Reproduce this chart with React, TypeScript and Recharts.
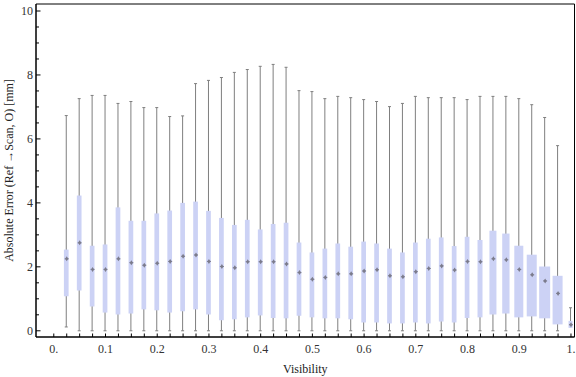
import React from "react";
import { ComposedChart, Bar, Scatter, XAxis, YAxis, Label, ReferenceArea } from "recharts";

// box positions (Visibility)
const visibility = [
  0.025, 0.05, 0.075, 0.1, 0.125, 0.15, 0.175, 0.2, 0.225, 0.25,
  0.275, 0.3, 0.325, 0.35, 0.375, 0.4, 0.425, 0.45, 0.475, 0.5,
  0.525, 0.55, 0.575, 0.6, 0.625, 0.65, 0.675, 0.7, 0.725, 0.75,
  0.775, 0.8, 0.825, 0.85, 0.875, 0.9, 0.925, 0.95, 0.975, 1.0,
];

const whiskerMax = [
  6.73, 7.26, 7.36, 7.36, 7.11, 7.17, 6.98, 6.98, 6.7, 6.72,
  7.73, 7.83, 7.92, 8.08, 8.17, 8.27, 8.33, 8.24, 7.51, 7.48,
  7.26, 7.33, 7.29, 7.23, 7.17, 7.01, 7.11, 7.33, 7.29, 7.29,
  7.29, 7.23, 7.33, 7.33, 7.33, 7.26, 7.07, 6.67, 5.79, 0.72,
];

const upperQuartile = [
  2.54, 4.23, 2.66, 2.7, 3.86, 3.44, 3.44, 3.67, 3.76, 4.0,
  4.04, 3.75, 3.53, 3.31, 3.47, 3.17, 3.34, 3.38, 2.76, 2.45,
  2.57, 2.73, 2.63, 2.79, 2.73, 2.57, 2.45, 2.76, 2.88, 2.92,
  2.65, 2.94, 2.84, 3.13, 3.04, 2.66, 2.38, 2.01, 1.72, 0.31,
];

const median = [
  2.25, 2.75, 1.92, 1.92, 2.25, 2.13, 2.05, 2.11, 2.17, 2.33,
  2.37, 2.17, 2.01, 1.97, 2.16, 2.16, 2.16, 2.09, 1.82, 1.61,
  1.67, 1.78, 1.78, 1.87, 1.91, 1.72, 1.69, 1.85, 1.95, 2.03,
  1.9, 2.17, 2.16, 2.25, 2.22, 1.92, 1.75, 1.56, 1.17, 0.19,
];

const lowerQuartile = [
  1.08, 1.26, 0.76, 0.57, 0.51, 0.54, 0.67, 0.64, 0.57, 0.61,
  0.67, 0.51, 0.33, 0.36, 0.42, 0.48, 0.4, 0.39, 0.47, 0.42,
  0.39, 0.39, 0.36, 0.26, 0.26, 0.23, 0.23, 0.26, 0.23, 0.29,
  0.26, 0.4, 0.42, 0.51, 0.54, 0.42, 0.45, 0.39, 0.2, 0.09,
];

const whiskerMin = [
  0.12, 0, 0, 0, 0, 0, 0, 0, 0, 0,
  0, 0, 0, 0, 0, 0, 0, 0, 0, 0,
  0, 0, 0, 0, 0, 0, 0, 0, 0, 0,
  0, 0, 0, 0, 0, 0, 0, 0, 0, 0.09,
];

// tick positions / labels
const xTicks = Array.from({ length: 41 }, (_, i) => +(i * 0.025).toFixed(3));
const xLabels: Record<string, string> = {
  "0": "0.", "0.1": "0.1", "0.2": "0.2", "0.3": "0.3", "0.4": "0.4", "0.5": "0.5",
  "0.6": "0.6", "0.7": "0.7", "0.8": "0.8", "0.9": "0.9", "1": "1.",
};
const yTicks = Array.from({ length: 21 }, (_, i) => i * 0.5);

const X_DOMAIN: [number, number] = [-0.0344, 1.0068];
const Y_DOMAIN: [number, number] = [-0.194, 10.219];

// drawing widths of the boxes (px)
const BOX_PX = [
  4.7, 4.7, 4.7, 4.7, 4.7, 4.7, 4.7, 4.7, 4.7, 4.7,
  4.7, 4.7, 4.7, 4.7, 4.7, 4.7, 4.7, 4.7, 4.7, 4.7,
  4.7, 4.7, 4.7, 4.7, 4.7, 4.7, 4.7, 4.7, 4.7, 4.7,
  4.7, 4.7, 5, 7, 7.3, 9, 10, 11, 10, 4,
];

const BOX_FILL = "#CCD2F5";
const WHISKER = "#7f7f7f";
const FONT = "'Liberation Serif', 'Times New Roman', serif";

const data = visibility.map((v, i) => ({
  v,
  range: [whiskerMin[i], whiskerMax[i]],
  min: whiskerMin[i],
  q1: lowerQuartile[i],
  median: median[i],
  q3: upperQuartile[i],
  max: whiskerMax[i],
}));

function BoxShape(props: any) {
  const { x, y, width, height, payload } = props;
  if (!payload) return null;
  const i = visibility.indexOf(payload.v);
  const cx = x + width / 2;
  const top = Math.min(y, y + height);
  const bot = Math.max(y, y + height);
  const lo = payload.min;
  const hi = payload.max;
  const py = (val: number) =>
    hi === lo ? bot : bot - ((val - lo) / (hi - lo)) * (bot - top);
  const w = BOX_PX[i] ?? 5;
  const yq3 = py(payload.q3);
  const yq1 = py(payload.q1);
  return (
    <g>
      <line x1={cx} x2={cx} y1={top} y2={bot} stroke={WHISKER} strokeWidth={1} />
      <line x1={cx - 1.5} x2={cx + 1.5} y1={top} y2={top} stroke={WHISKER} strokeWidth={1} />
      {payload.min < payload.q1 && (
        <line x1={cx - 1.5} x2={cx + 1.5} y1={bot} y2={bot} stroke={WHISKER} strokeWidth={1} />
      )}
      <rect x={cx - w / 2} y={yq3} width={w} height={Math.max(yq1 - yq3, 1)} fill={BOX_FILL} />
    </g>
  );
}

function MedianShape(props: any) {
  const { cx, cy } = props;
  if (cx == null || cy == null) return null;
  return (
    <g>
      <path
        d={`M${cx},${cy - 2.5} L${cx + 1.6},${cy} L${cx},${cy + 2.5} L${cx - 1.6},${cy} Z`}
        fill="#7c7c8c"
      />
      <line x1={cx - 2} x2={cx + 2} y1={cy} y2={cy} stroke="#7c7c8c" strokeWidth={1} />
    </g>
  );
}

function LeftTick(props: any) {
  const { x, y, payload } = props;
  const major = payload.value % 2 === 0;
  const ax = x + 3;
  return (
    <g>
      <line x1={ax} x2={ax + (major ? 4.5 : 3)} y1={y} y2={y} stroke="#000" />
      {major && (
        <text x={x} y={y} dy="0.33em" textAnchor="end" fontSize={12} fill="#333" fontFamily={FONT}>
          {payload.value}
        </text>
      )}
    </g>
  );
}

function RightTick(props: any) {
  const { x, y, payload } = props;
  const major = payload.value % 2 === 0;
  return <line x1={x} x2={x - (major ? 4.5 : 3)} y1={y} y2={y} stroke="#000" />;
}

export default function App() {
  return (
    <div style={{ position: "absolute", left: 0, top: 0, background: "#fff" }}>
      <ComposedChart
        width={576}
        height={377}
        data={data}
        margin={{ top: 4, right: 1.5, bottom: 0, left: 0 }}
      >
        <XAxis
          xAxisId="bottom"
          dataKey="v"
          type="number"
          domain={X_DOMAIN}
          ticks={xTicks}
          interval={0}
          allowDataOverflow
          height={40}
          stroke="#000"
          tickSize={-3.5}
          tickMargin={11}
          tickFormatter={(v: number) => xLabels[String(+v.toFixed(3))] ?? ""}
          tick={{ fontSize: 12, fill: "#333", fontFamily: FONT }}
        >
          <Label
            value="Visibility"
            position="insideBottom"
            offset={4}
            style={{ fontSize: 12, fill: "#222", fontFamily: FONT }}
          />
        </XAxis>
        <XAxis
          xAxisId="top"
          orientation="top"
          dataKey="v"
          type="number"
          domain={X_DOMAIN}
          ticks={xTicks}
          interval={0}
          allowDataOverflow
          height={0}
          stroke="#000"
          tickSize={-3.5}
          tick={false}
        />
        <YAxis
          yAxisId="left"
          type="number"
          domain={Y_DOMAIN}
          ticks={yTicks}
          interval={0}
          allowDataOverflow
          width={36}
          stroke="#000"
          tickLine={false}
          tickSize={0}
          tickMargin={3}
          tick={<LeftTick />}
          label={{
            content: (p: any) => {
              const vb = p.viewBox || { x: 0, y: 4, height: 333 };
              const cy = vb.y + vb.height / 2;
              return (
                <text
                  x={13}
                  y={cy}
                  transform={`rotate(-90, 13, ${cy})`}
                  textAnchor="middle"
                  fontSize={12}
                  fill="#222"
                  fontFamily={FONT}
                >
                  Absolute Error (Ref →Scan, O) [mm]
                </text>
              );
            },
          }}
        />
        <YAxis
          yAxisId="right"
          orientation="right"
          type="number"
          domain={Y_DOMAIN}
          ticks={yTicks}
          interval={0}
          allowDataOverflow
          width={0}
          stroke="#000"
          tickLine={false}
          tickSize={0}
          tickMargin={0}
          tick={<RightTick />}
        />
        <ReferenceArea
          xAxisId="bottom"
          yAxisId="left"
          x1={X_DOMAIN[0]}
          x2={X_DOMAIN[1]}
          y1={Y_DOMAIN[0]}
          y2={Y_DOMAIN[1]}
          fill="none"
          stroke="#000"
          strokeWidth={1}
          ifOverflow="visible"
        />
        <Bar
          xAxisId="bottom"
          yAxisId="left"
          dataKey="range"
          barSize={12}
          shape={<BoxShape />}
          isAnimationActive={false}
        />
        <Scatter
          xAxisId="bottom"
          yAxisId="left"
          dataKey="median"
          shape={<MedianShape />}
          isAnimationActive={false}
        />
      </ComposedChart>
    </div>
  );
}
